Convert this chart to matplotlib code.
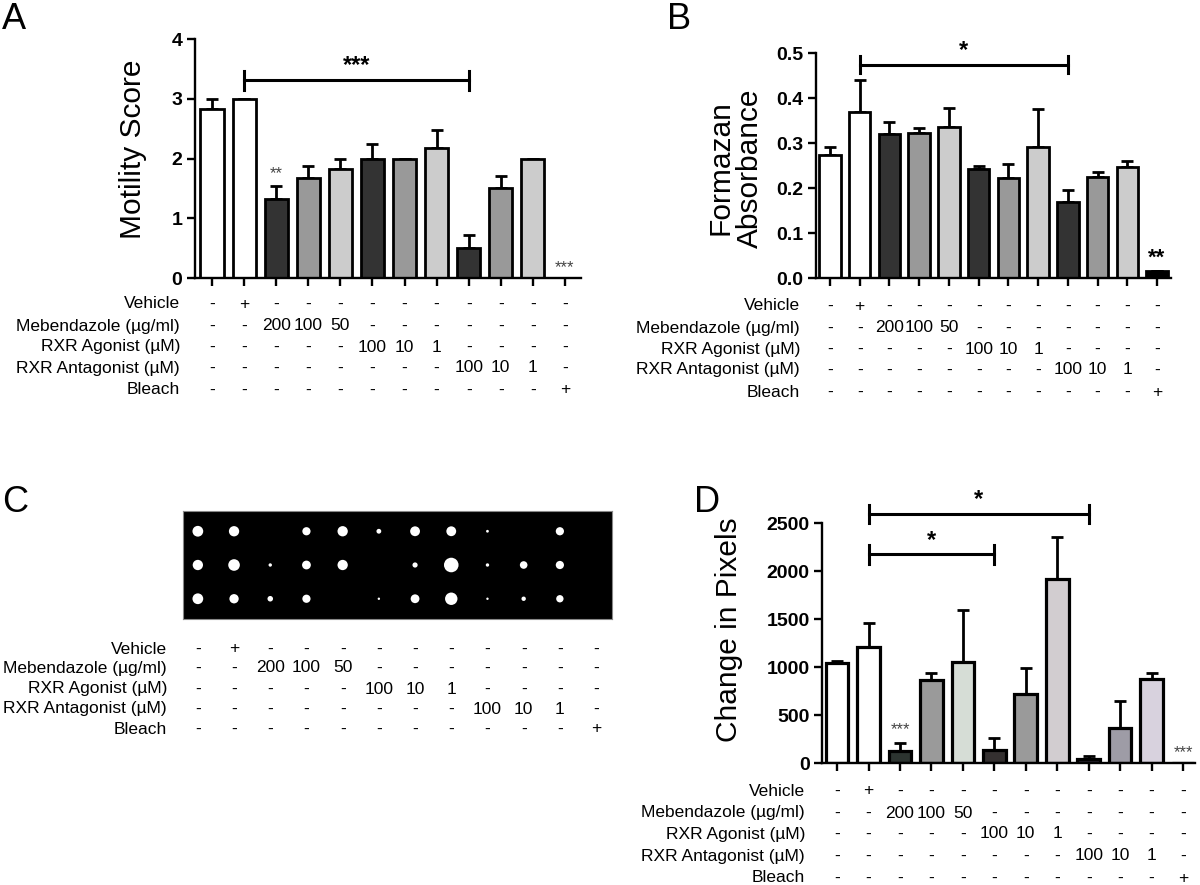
import matplotlib
matplotlib.use("Agg")
import matplotlib.pyplot as plt
import matplotlib.transforms as mtransforms

plt.rcParams['font.family'] = ['Liberation Sans', 'DejaVu Sans']

# ---------------- data ----------------
row_names = ["Vehicle", "Mebendazole (\u00b5g/ml)", "RXR Agonist (\u00b5M)",
             "RXR Antagonist (\u00b5M)", "Bleach"]
vehicle_row = ["-", "+", "-", "-", "-", "-", "-", "-", "-", "-", "-", "-"]
mebendazole_row = ["-", "-", "200", "100", "50", "-", "-", "-", "-", "-", "-", "-"]
agonist_row = ["-", "-", "-", "-", "-", "100", "10", "1", "-", "-", "-", "-"]
antagonist_row = ["-", "-", "-", "-", "-", "-", "-", "-", "100", "10", "1", "-"]
bleach_row = ["-", "-", "-", "-", "-", "-", "-", "-", "-", "-", "-", "+"]
table_rows = [vehicle_row, mebendazole_row, agonist_row, antagonist_row, bleach_row]

motility_mean = [2.83, 3.0, 1.33, 1.67, 1.83, 2.0, 2.0, 2.17, 0.5, 1.5, 2.0, 0.0]
motility_err = [0.17, 0.0, 0.21, 0.21, 0.17, 0.25, 0.0, 0.30, 0.22, 0.21, 0.0, 0.0]

formazan_mean = [0.274, 0.369, 0.320, 0.322, 0.336, 0.243, 0.222, 0.291, 0.170, 0.224, 0.246, 0.015]
formazan_err = [0.017, 0.072, 0.027, 0.011, 0.041, 0.005, 0.031, 0.085, 0.025, 0.011, 0.014, 0.0]

pixels_mean = [1045, 1208, 129, 863, 1055, 139, 721, 1918, 42, 369, 870, 0]
pixels_err = [20, 247, 80, 70, 536, 126, 271, 432, 31, 282, 70, 0]

# blob areas (pt^2) of the binarised worm images, 3 rows x 12 treatments
blob_rows = [
    [60, 55, 0, 35, 55, 12, 50, 50, 4, 0, 35, 0],
    [55, 70, 6, 40, 55, 0, 14, 110, 6, 30, 35, 0],
    [60, 45, 16, 35, 0, 3, 40, 80, 3, 10, 28, 0],
]

colors_AB = ['white', 'white', '#333333', '#999999', '#cccccc', '#333333',
             '#999999', '#cccccc', '#333333', '#999999', '#cccccc', 'black']
colors_D = ['white', 'white', '#2c3430', '#9a9a9a', '#d6ddd6', '#343030',
            '#9a9a9a', '#d2cdd0', '#2a2633', '#9e9ca6', '#d8d2de', 'white']

# ---------------- figure ----------------
W, H = 1200, 885
fig = plt.figure(figsize=(W / 100, H / 100), dpi=100)


def add_ax(l, r, t, b):
    return fig.add_axes([l / W, 1 - b / H, (r - l) / W, (b - t) / H])


def style(ax):
    for s in ['top', 'right']:
        ax.spines[s].set_visible(False)
    for s in ['left', 'bottom']:
        ax.spines[s].set_linewidth(1.7)
    ax.tick_params(direction='out', length=6, width=1.7, labelsize=14, pad=3)
    ax.set_xticks(range(12))
    ax.set_xticklabels([])
    for lab in ax.get_yticklabels():
        lab.set_fontweight('bold')


def bars(ax, means, errs, colors, lw):
    x = list(range(len(means)))
    ax.bar(x, means, width=0.72, color=colors, edgecolor='black', linewidth=lw, zorder=2)
    ax.errorbar(x, means, yerr=[[0] * len(errs), errs], fmt='none', ecolor='black',
                elinewidth=2.0, capsize=4.5, capthick=2.0, zorder=1)


def bracket(ax, x0, x1, y, dy, label, ty, fs=17):
    ax.plot([x0, x1], [y, y], color='black', lw=2.2, clip_on=False)
    ax.plot([x0, x0], [y - dy, y + dy], color='black', lw=2.2, clip_on=False)
    ax.plot([x1, x1], [y - dy, y + dy], color='black', lw=2.2, clip_on=False)
    ax.text((x0 + x1) / 2, ty, label, ha='center', va='center', fontsize=fs,
            fontweight='bold', clip_on=False)


def table(ax, label_right_px, rows_y_px, fs=12.5):
    trans = mtransforms.blended_transform_factory(ax.transData, fig.transFigure)
    for name, vals, ypx in zip(row_names, table_rows, rows_y_px):
        fig.text(label_right_px / W, 1 - ypx / H, name, ha='right', va='center', fontsize=fs)
        for i, v in enumerate(vals):
            ax.text(i, 1 - ypx / H, v, transform=trans, ha='center', va='center',
                    fontsize=fs, clip_on=False)


# ---------------- Panel A ----------------
axA = add_ax(195, 581, 39, 278)
bars(axA, motility_mean, motility_err, colors_AB, 2.0)
axA.set_xlim(-0.53, 11.5)
axA.set_ylim(0, 4)
axA.set_yticks([0, 1, 2, 3, 4])
style(axA)
bracket(axA, 1, 8, 3.31, 0.16, '***', 3.56)
axA.text(2, 1.74, '**', ha='center', va='center', fontsize=12, color='#444444')
axA.text(11, 0.17, '***', ha='center', va='center', fontsize=12, color='#444444')
fig.text(133 / W, 1 - 149 / H, 'Motility Score', rotation=90, ha='center', va='center', fontsize=21.5)
table(axA, 180, [304, 326, 347, 368, 390])
fig.text(2 / W, 1 - 2 / H, 'A', fontsize=26, va='top', ha='left')

# ---------------- Panel B ----------------
axB = add_ax(816, 1171, 53, 278)
bars(axB, formazan_mean, formazan_err, colors_AB, 2.0)
axB.set_xlim(-0.47, 11.47)
axB.set_ylim(0, 0.5)
axB.set_yticks([0, 0.1, 0.2, 0.3, 0.4, 0.5])
axB.set_yticklabels(['0.0', '0.1', '0.2', '0.3', '0.4', '0.5'])
style(axB)
bracket(axB, 1, 8, 0.474, 0.019, '*', 0.506)
axB.text(11, 0.045, '**', ha='center', va='center', fontsize=16, fontweight='bold')
fig.text(735 / W, 1 - 168 / H, 'Formazan\nAbsorbance', rotation=90, ha='center', va='center',
         fontsize=21.5, linespacing=1.05)
table(axB, 800, [306, 328, 349, 370, 392])
fig.text(667 / W, 1 - 2 / H, 'B', fontsize=26, va='top', ha='left')

# ---------------- Panel C ----------------
axC = add_ax(183, 612, 511, 619)
axC.set_facecolor('black')
axC.set_xlim(-0.41, 11.44)
axC.set_ylim(2.6, -0.6)
for r, row in enumerate(blob_rows):
    axC.scatter(range(12), [r] * 12, s=row, color='white', marker='o', linewidths=0)
axC.set_xticks([])
axC.set_yticks([])
for s in axC.spines.values():
    s.set_color('#888888')
    s.set_linewidth(0.8)
table(axC, 167, [649, 668, 689, 709, 729])
fig.text(2 / W, 1 - 485 / H, 'C', fontsize=26, va='top', ha='left')

# ---------------- Panel D ----------------
axD = add_ax(822, 1195, 523, 763)
bars(axD, pixels_mean, pixels_err, colors_D, 2.3)
axD.set_xlim(-0.48, 11.38)
axD.set_ylim(0, 2500)
axD.set_yticks([0, 500, 1000, 1500, 2000, 2500])
style(axD)
bracket(axD, 1, 8, 2594, 95, '*', 2740)
bracket(axD, 1, 5, 2176, 100, '*', 2320)
axD.text(2, 350, '***', ha='center', va='center', fontsize=12, color='#444444')
axD.text(11, 105, '***', ha='center', va='center', fontsize=12, color='#444444')
fig.text(729 / W, 1 - 630 / H, 'Change in Pixels', rotation=90, ha='center', va='center', fontsize=21.5)
table(axD, 805, [791, 813, 834, 856, 878])
fig.text(694 / W, 1 - 485 / H, 'D', fontsize=26, va='top', ha='left')

fig.savefig('out.png', dpi=100)
